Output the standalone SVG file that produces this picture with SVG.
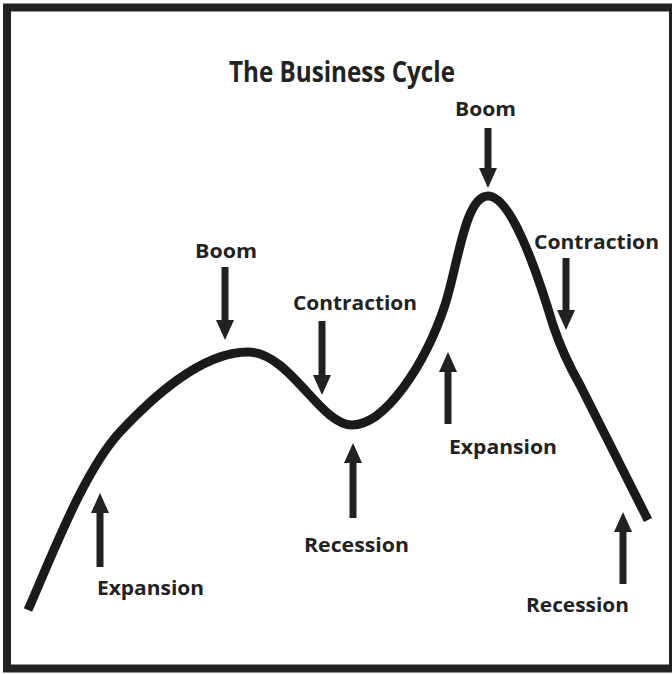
<svg xmlns="http://www.w3.org/2000/svg" width="672" height="674" viewBox="0 0 672 674">
<style>
.lbl{font-family:"Open Sans","Liberation Sans",sans-serif;font-weight:700;font-size:20px;fill:#222;}
.title{font-size:29px;}
.arr{stroke:#222;stroke-width:7;fill:none;marker-end:url(#head);}
.curve{stroke:#1a1a1a;stroke-width:9;fill:none;stroke-linejoin:round;}
</style>
<defs>
<marker id="head" viewBox="0 0 20 18" refX="2" refY="9" markerWidth="20" markerHeight="18" markerUnits="userSpaceOnUse" orient="auto">
<path d="M0,0 L20,9 L0,18 Z" fill="#222"/>
</marker>
</defs>
<rect x="0" y="0" width="672" height="674" fill="#fff"/>
<rect id="frame" x="7" y="7.5" width="666" height="661" fill="none" stroke="#222" stroke-width="8"/>
<g id="title"><text class="lbl title" x="229" y="82" textLength="226" lengthAdjust="spacingAndGlyphs">The Business Cycle</text></g>
<g id="curve">
<path class="curve" d="M28,610 C55,548 85,470 120,432 C150,400 200,352 248,352 C290,352 320,425 352,425 C385,425 425,365 445,305 C458,265 465,196 488,196 C510,196 535,265 553,325 C560,346 568,364 580,385 L648,520"/>
</g>
<g id="connectors">
<line class="arr" x1="225" y1="267" x2="225" y2="322"/>
<line class="arr" x1="322" y1="321" x2="322" y2="377"/>
<line class="arr" x1="488" y1="128" x2="488" y2="170"/>
<line class="arr" x1="566" y1="258" x2="566" y2="312"/>
<line class="arr" x1="448" y1="424" x2="448" y2="370"/>
<line class="arr" x1="353" y1="518" x2="353" y2="461"/>
<line class="arr" x1="100" y1="567" x2="100" y2="511"/>
<line class="arr" x1="623" y1="584" x2="623" y2="530"/>
</g>
<g id="boom1"><text class="lbl" x="195" y="258" textLength="62" lengthAdjust="spacingAndGlyphs">Boom</text></g>
<g id="boom2"><text class="lbl" x="455" y="116" textLength="61" lengthAdjust="spacingAndGlyphs">Boom</text></g>
<g id="contraction1"><text class="lbl" x="293" y="310" textLength="124" lengthAdjust="spacingAndGlyphs">Contraction</text></g>
<g id="contraction2"><text class="lbl" x="534" y="249" textLength="125" lengthAdjust="spacingAndGlyphs">Contraction</text></g>
<g id="expansion1"><text class="lbl" x="97" y="595" textLength="107" lengthAdjust="spacingAndGlyphs">Expansion</text></g>
<g id="expansion2"><text class="lbl" x="449" y="454" textLength="108" lengthAdjust="spacingAndGlyphs">Expansion</text></g>
<g id="recession1"><text class="lbl" x="304" y="552" textLength="105" lengthAdjust="spacingAndGlyphs">Recession</text></g>
<g id="recession2"><text class="lbl" x="526" y="612" textLength="103" lengthAdjust="spacingAndGlyphs">Recession</text></g>
</svg>
